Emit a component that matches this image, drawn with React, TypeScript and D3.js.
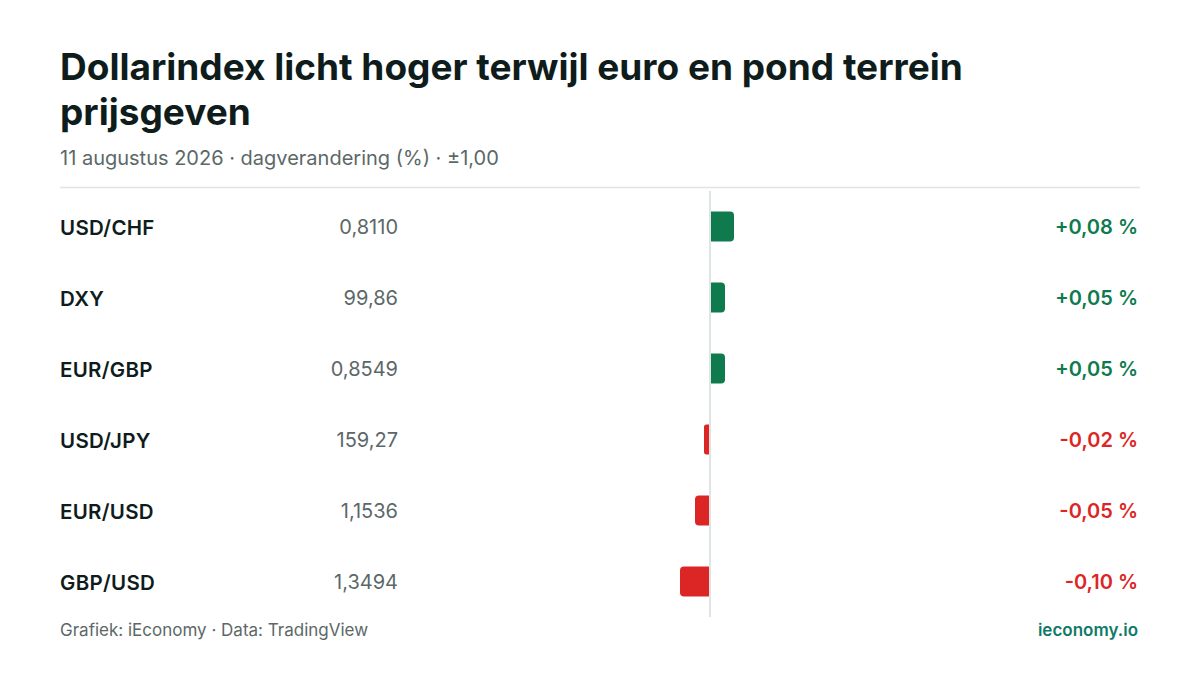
import { scaleLinear, scaleBand } from 'd3'

const PAIRS = ['USD/CHF', 'DXY', 'EUR/GBP', 'USD/JPY', 'EUR/USD', 'GBP/USD']
const RATES = ['0,8110', '99,86', '0,8549', '159,27', '1,1536', '1,3494']
const CHANGES = [0.08, 0.05, 0.05, -0.02, -0.05, -0.1]
const DOMAIN = [-1, 1]

const TITLE_LINES = ['Dollarindex licht hoger terwijl euro en pond terrein', 'prijsgeven']
const SUBTITLE = '11 augustus 2026 · dagverandering (%) · ±1,00'
const SOURCE = 'Grafiek: iEconomy · Data: TradingView'
const BRAND = 'ieconomy.io'

const GREEN = '#0e7a4e'
const RED = '#dc2626'
const INK = '#0f1c1c'
const GREY = '#5c6868'

const fmt = (v: number) =>
  (v > 0 ? '+' : v < 0 ? '-' : '') + Math.abs(v).toFixed(2).replace('.', ',') + ' %'

// bar with rounded outer corners only
function barPath(x0: number, x1: number, y: number, h: number, r: number) {
  const w = Math.abs(x1 - x0)
  const rr = Math.min(r, w / 2, h / 2)
  if (x1 >= x0) {
    return `M${x0},${y}H${x1 - rr}Q${x1},${y} ${x1},${y + rr}V${y + h - rr}Q${x1},${y + h} ${x1 - rr},${y + h}H${x0}Z`
  }
  return `M${x0},${y}H${x1 + rr}Q${x1},${y} ${x1},${y + rr}V${y + h - rr}Q${x1},${y + h} ${x1 + rr},${y + h}H${x0}Z`
}

export default function App() {
  const width = 1200
  const height = 675
  const left = 60
  const right = 1140
  const rowsTop = 191
  const rowsBottom = 617

  const x = scaleLinear().domain(DOMAIN).range([410, 1010])
  const y = scaleBand().domain(PAIRS).range([rowsTop, rowsBottom])
  const barH = 30
  const font = 'Inter, "Noto Sans", sans-serif'

  return (
    <svg
      width={width}
      height={height}
      style={{ position: 'absolute', left: 0, top: 0, background: '#fff' }}
      fontFamily={font}
    >
      <rect width={width} height={height} fill='#fff' />

      {/* Title */}
      {TITLE_LINES.map((t, i) => (
        <text key={i} x={left} y={80 + i * 45} fontSize={37} fontWeight={700} fill={INK}>
          {t}
        </text>
      ))}
      <text x={left} y={165} fontSize={20} fill={GREY}>
        {SUBTITLE}
      </text>
      <line x1={left} x2={right} y1={187.5} y2={187.5} stroke='#dfe4e4' strokeWidth={1.5} />

      {/* Zero line */}
      <line x1={x(0)} x2={x(0)} y1={rowsTop} y2={rowsBottom} stroke='#dfe4e4' strokeWidth={2} />

      {/* Rows */}
      {PAIRS.map((p, i) => {
        const cy = y(p)! + y.bandwidth() / 2
        const v = CHANGES[i]
        const color = v >= 0 ? GREEN : RED
        const x0 = v >= 0 ? x(0) + 1 : x(0) - 1
        return (
          <g key={p}>
            <text x={left} y={cy + 8} fontSize={20.5} fontWeight={600} fill={INK} letterSpacing={0.3}>
              {p}
            </text>
            <text x={398} y={cy + 7.5} fontSize={20} textAnchor='end' fill={GREY}>
              {RATES[i]}
            </text>
            <path d={barPath(x0, x(v), cy - barH / 2, barH, 4)} fill={color} />
            <text x={1138} y={cy + 7.5} fontSize={20} fontWeight={600} textAnchor='end' fill={color}>
              {fmt(v)}
            </text>
          </g>
        )
      })}

      {/* Footer */}
      <text x={left} y={636} fontSize={17} fill={GREY}>
        {SOURCE}
      </text>
      <text x={1138} y={636} fontSize={17} fontWeight={600} textAnchor='end' fill='#0f7a68'>
        {BRAND}
      </text>
    </svg>
  )
}
